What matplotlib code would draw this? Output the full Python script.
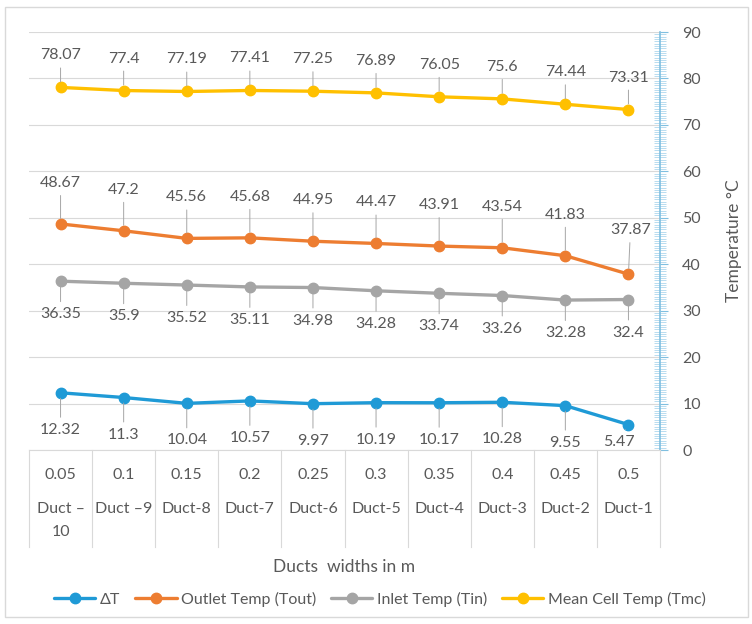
import matplotlib
matplotlib.use("Agg")
import matplotlib.pyplot as plt
import matplotlib.transforms as mtransforms
from matplotlib.lines import Line2D
from matplotlib.patches import Rectangle
import numpy as np

plt.rcParams['font.family'] = ['Lato', 'DejaVu Sans']

widths = ["0.05", "0.1", "0.15", "0.2", "0.25", "0.3", "0.35", "0.4", "0.45", "0.5"]
ducts = ["Duct –10", "Duct –9", "Duct-8", "Duct-7", "Duct-6", "Duct-5",
         "Duct-4", "Duct-3", "Duct-2", "Duct-1"]

delta_t = [12.32, 11.3, 10.04, 10.57, 9.97, 10.19, 10.17, 10.28, 9.55, 5.47]
outlet_t = [48.67, 47.2, 45.56, 45.68, 44.95, 44.47, 43.91, 43.54, 41.83, 37.87]
inlet_t = [36.35, 35.9, 35.52, 35.11, 34.98, 34.28, 33.74, 33.26, 32.28, 32.4]
mean_t = [78.07, 77.4, 77.19, 77.41, 77.25, 76.89, 76.05, 75.6, 74.44, 73.31]

series_names = ["ΔT", "Outlet Temp (Tout)", "Inlet Temp (Tin)", "Mean Cell Temp (Tmc)"]
colors = ["#1F9AD6", "#ED7D31", "#A5A5A5", "#FFC000"]

TXT = "#595959"
GRID = "#D9D9D9"
W, H = 752, 624

fig = plt.figure(figsize=(W / 100, H / 100), dpi=100)
ax = fig.add_axes([29 / W, 1 - 450 / H, (660 - 29) / W, (450 - 32) / H])

x = np.arange(len(widths))
series = [delta_t, outlet_t, inlet_t, mean_t]
handles = []
for vals, c, name in zip(series, colors, series_names):
    h, = ax.plot(x, vals, color=c, lw=2.4, marker='o', markersize=7.5,
                 markeredgecolor=c, markerfacecolor=c, label=name, zorder=3,
                 solid_capstyle='round')
    handles.append(h)

# data labels with leader lines
def label_series(vals, dy, special=None):
    for i, v in enumerate(vals):
        ox, oy = 0, dy
        if special and i in special:
            ox, oy = special[i]
        ax.annotate(f"{v:g}", xy=(i, v), xytext=(ox, oy), textcoords='offset pixels',
                    ha='center', va='center', fontsize=11.5, color=TXT,
                    arrowprops=dict(arrowstyle='-', color='#A6A6A6', lw=0.7,
                                    shrinkA=2, shrinkB=4),
                    annotation_clip=False, zorder=4)

label_series(delta_t, -37, special={9: (-10, -17)})
label_series(inlet_t, -33)
label_series(outlet_t, 41, special={9: (2, 44)})
label_series(mean_t, 32)

ax.set_xlim(-0.5, len(widths) - 0.5)
ax.set_ylim(0, 90)
ax.set_yticks(np.arange(0, 91, 10))
ax.set_yticks(np.arange(0, 90.1, 0.5), minor=True)
ax.yaxis.tick_right()
ax.yaxis.set_label_position('right')
ax.tick_params(axis='y', which='major', direction='out', length=6, width=0.8,
               color='#7FBFE0', labelsize=11.5, labelcolor=TXT, pad=10)
ax.tick_params(axis='y', which='minor', direction='inout', length=8, width=0.5,
               color='#9CCFEA')
ax.tick_params(axis='x', which='both', bottom=False, labelbottom=False)
ax.grid(axis='y', color=GRID, lw=0.8, zorder=0)
ax.set_axisbelow(True)
for s in ['top', 'left']:
    ax.spines[s].set_visible(False)
ax.spines['right'].set_color('#7FBFE0')
ax.spines['right'].set_linewidth(1.2)
ax.spines['bottom'].set_color(GRID)
ax.spines['bottom'].set_linewidth(0.8)

ax.set_ylabel("Temperature °C", fontsize=12.5, color=TXT, labelpad=18)

# category table under the axis
bt = mtransforms.blended_transform_factory(ax.transData, fig.transFigure)
y_top = 1 - 450 / H
y_bot = 1 - 547 / H
for b in np.arange(-0.5, len(widths), 1.0):
    ax.add_line(Line2D([b, b], [y_top, y_bot], transform=bt, color=GRID,
                       lw=0.8, clip_on=False))
row1 = 1 - 475 / H
for i, (wd, dn) in enumerate(zip(widths, ducts)):
    ax.text(i, row1, wd, transform=bt, ha='center', va='center',
            fontsize=11.5, color=TXT)
    lines = dn.replace('–', '–\n').split('\n') if len(dn) > 7 else [dn]
    for k, ln in enumerate(lines):
        ax.text(i, 1 - (509 + 23 * k) / H, ln, transform=bt, ha='center',
                va='center', fontsize=11.5, color=TXT)

fig.text((29 + 660) / 2 / W, 1 - 567 / H, "Ducts  widths in m", ha='center',
         va='center', fontsize=12.5, color=TXT)

fig.legend(handles=handles, loc='center', bbox_to_anchor=(380 / W, 1 - 599 / H),
           ncol=4, frameon=False, fontsize=11.5, labelcolor=TXT,
           handlelength=2.6, handletextpad=0.3, columnspacing=0.9)

fig.add_artist(Rectangle((5 / W, 1 - 617 / H), 743 / W, 610 / H,
                         transform=fig.transFigure, fill=False,
                         edgecolor=GRID, lw=1))

fig.savefig("out.png", dpi=100)
